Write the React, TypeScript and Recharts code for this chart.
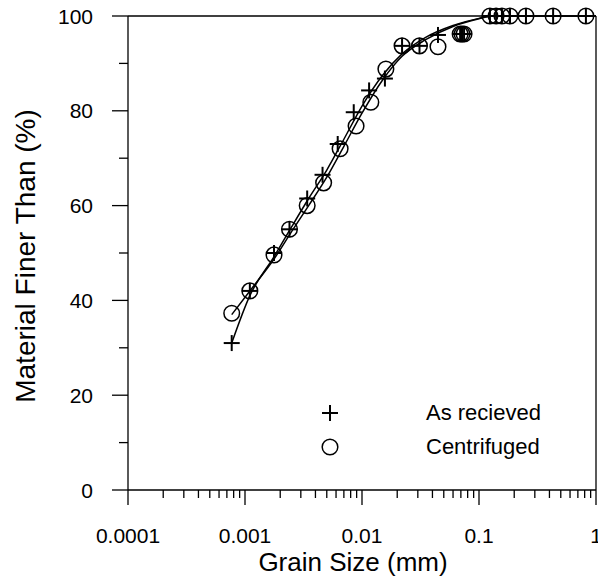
import React from 'react';
import {
  ComposedChart, Line, Scatter, XAxis, YAxis, ReferenceLine
} from 'recharts';

// measured points (grain size mm, % finer)
const asReceived = [
  { x: 0.00077, y: 31 }, { x: 0.0011, y: 42 }, { x: 0.00177, y: 50 }, { x: 0.0024, y: 55 },
  { x: 0.0034, y: 61.5 }, { x: 0.0046, y: 66.5 }, { x: 0.0062, y: 73 }, { x: 0.0085, y: 79.7 },
  { x: 0.0115, y: 84.3 }, { x: 0.0157, y: 86.8 }, { x: 0.022, y: 93.7 }, { x: 0.031, y: 93.7 },
  { x: 0.0446, y: 96 }, { x: 0.069, y: 96.2 }, { x: 0.0716, y: 96.2 }, { x: 0.0745, y: 96.2 },
  { x: 0.124, y: 100 }, { x: 0.14, y: 100 }, { x: 0.157, y: 100 }, { x: 0.184, y: 100 },
  { x: 0.252, y: 100 }, { x: 0.43, y: 100 }, { x: 0.82, y: 100 },
];

const centrifuged = [
  { x: 0.00077, y: 37.3 }, { x: 0.0011, y: 42 }, { x: 0.00177, y: 49.6 }, { x: 0.0024, y: 55 },
  { x: 0.0034, y: 60 }, { x: 0.0047, y: 64.8 }, { x: 0.0065, y: 72 }, { x: 0.0089, y: 76.8 },
  { x: 0.0119, y: 81.8 }, { x: 0.016, y: 88.8 }, { x: 0.022, y: 93.7 }, { x: 0.031, y: 93.7 },
  { x: 0.0446, y: 93.5 }, { x: 0.069, y: 96.2 }, { x: 0.0716, y: 96.2 }, { x: 0.0745, y: 96.2 },
  { x: 0.124, y: 100 }, { x: 0.14, y: 100 }, { x: 0.157, y: 100 }, { x: 0.184, y: 100 },
  { x: 0.252, y: 100 }, { x: 0.43, y: 100 }, { x: 0.82, y: 100 },
];

// fitted curves
const asReceivedFit = [
  { x: 0.00077, y: 31 }, { x: 0.0011, y: 41 }, { x: 0.0018, y: 49.5 }, { x: 0.0025, y: 55.5 },
  { x: 0.0035, y: 61.5 }, { x: 0.005, y: 67.5 }, { x: 0.007, y: 74 }, { x: 0.01, y: 81 },
  { x: 0.015, y: 87.5 }, { x: 0.022, y: 92 }, { x: 0.035, y: 95.5 }, { x: 0.06, y: 98 },
  { x: 0.1, y: 99.5 }, { x: 0.13, y: 100 }, { x: 1, y: 100 },
];

const centrifugedFit = [
  { x: 0.00077, y: 37 }, { x: 0.0011, y: 42 }, { x: 0.0018, y: 49 }, { x: 0.0025, y: 54.5 },
  { x: 0.0035, y: 60 }, { x: 0.005, y: 66 }, { x: 0.007, y: 72.5 }, { x: 0.01, y: 79.5 },
  { x: 0.015, y: 86.5 }, { x: 0.022, y: 91.5 }, { x: 0.035, y: 95 }, { x: 0.06, y: 97.8 },
  { x: 0.1, y: 99.4 }, { x: 0.13, y: 100 }, { x: 1, y: 100 },
];

const xMajor = [0.0001, 0.001, 0.01, 0.1, 1];
const xMajorLabels = ['0.0001', '0.001', '0.01', '0.1', '1'];
const xTicks = [
  0.0001, 0.0002, 0.0003, 0.0004, 0.0005, 0.0006, 0.0007, 0.0008, 0.0009,
  0.001, 0.002, 0.003, 0.004, 0.005, 0.006, 0.007, 0.008, 0.009,
  0.01, 0.02, 0.03, 0.04, 0.05, 0.06, 0.07, 0.08, 0.09,
  0.1, 0.2, 0.3, 0.4, 0.5, 0.6, 0.7, 0.8, 0.9, 1,
];
const yTicks = [0, 10, 20, 30, 40, 50, 60, 70, 80, 90, 100];
const yMajor = [0, 20, 40, 60, 80, 100];

const FONT = '"Liberation Sans", Arial, Helvetica, sans-serif';

const PlusMark = (props: any) => {
  const { cx, cy } = props;
  return (
    <g stroke="#000" strokeWidth={2}>
      <line x1={cx - 8} y1={cy} x2={cx + 8} y2={cy} />
      <line x1={cx} y1={cy - 8} x2={cx} y2={cy + 8} />
    </g>
  );
};

const CircleMark = (props: any) => {
  const { cx, cy } = props;
  return <circle cx={cx} cy={cy} r={7.8} fill="none" stroke="#000" strokeWidth={1.5} />;
};

const XTick = (props: any) => {
  const { x, y, payload } = props;
  const idx = xMajor.findIndex((v) => Math.abs(v - payload.value) / v < 1e-6);
  const major = idx >= 0;
  return (
    <g>
      <line x1={x} y1={y} x2={x} y2={y + (major ? 15 : 8)} stroke="#000" strokeWidth={1.3} />
      {major && (
        <text x={x} y={y + 53} textAnchor="middle" fontSize={21} fontFamily={FONT} fill="#000">
          {xMajorLabels[idx]}
        </text>
      )}
    </g>
  );
};

const YTick = (props: any) => {
  const { x, y, payload } = props;
  const major = yMajor.includes(payload.value);
  return (
    <g>
      <line x1={x - (major ? 16 : 9)} y1={y} x2={x} y2={y} stroke="#000" strokeWidth={1.3} />
      {major && (
        <text x={x - 35} y={y + 7.5} textAnchor="end" fontSize={21} fontFamily={FONT} fill="#000">
          {payload.value}
        </text>
      )}
    </g>
  );
};

export default function App() {
  return (
    <div style={{ position: 'relative', width: 598, height: 579, background: '#fff' }}>
      <style>{'body{margin:0}'}</style>
      <ComposedChart width={598} height={579} margin={{ top: 16, right: 2, left: 0, bottom: 0 }}>
        <XAxis
          dataKey="x"
          type="number"
          scale="log"
          domain={[0.0001, 1]}
          ticks={xTicks}
          interval={0}
          allowDataOverflow={true}
          height={89}
          tickSize={0}
          tickMargin={0}
          tickLine={false}
          axisLine={{ stroke: '#000', strokeWidth: 1.3 }}
          tick={<XTick />}
          label={{
            value: 'Grain Size (mm)',
            content: () => (
              <text x={353} y={571} textAnchor="middle" fontSize={26} fontFamily={FONT} fill="#000">
                Grain Size (mm)
              </text>
            ),
          }}
        />
        <YAxis
          dataKey="y"
          type="number"
          domain={[0, 100]}
          ticks={yTicks}
          interval={0}
          width={128}
          tickSize={0}
          tickMargin={0}
          tickLine={false}
          axisLine={{ stroke: '#000', strokeWidth: 1.3 }}
          tick={<YTick />}
          label={{
            value: 'Material Finer Than (%)',
            content: () => (
              <text
                x={0}
                y={0}
                transform="translate(35,256) rotate(-90)"
                textAnchor="middle"
                fontSize={28}
                fontFamily={FONT}
                fill="#000"
              >
                Material Finer Than (%)
              </text>
            ),
          }}
        />
        <ReferenceLine y={100} stroke="#000" strokeWidth={1.3} />
        <ReferenceLine x={1} stroke="#000" strokeWidth={1.3} />
        <Line data={asReceivedFit} dataKey="y" type="monotone" stroke="#000" strokeWidth={1.5} dot={false} isAnimationActive={false} />
        <Line data={centrifugedFit} dataKey="y" type="monotone" stroke="#000" strokeWidth={1.5} dot={false} isAnimationActive={false} />
        <Scatter data={asReceived} dataKey="y" shape={<PlusMark />} isAnimationActive={false} />
        <Scatter data={centrifuged} dataKey="y" shape={<CircleMark />} isAnimationActive={false} />
      </ComposedChart>
      <div style={{ position: 'absolute', left: 318, top: 400, fontFamily: FONT, fontSize: 22, color: '#000' }}>
        <div style={{ display: 'flex', alignItems: 'center', height: 26, marginBottom: 8 }}>
          <svg width={24} height={24}>
            <line x1={4} y1={12} x2={20} y2={12} stroke="#000" strokeWidth={2} />
            <line x1={12} y1={4} x2={12} y2={20} stroke="#000" strokeWidth={2} />
          </svg>
          <span style={{ marginLeft: 84 }}>As recieved</span>
        </div>
        <div style={{ display: 'flex', alignItems: 'center', height: 26 }}>
          <svg width={24} height={24}>
            <circle cx={12} cy={12} r={7.8} fill="none" stroke="#000" strokeWidth={1.5} />
          </svg>
          <span style={{ marginLeft: 84 }}>Centrifuged</span>
        </div>
      </div>
    </div>
  );
}
